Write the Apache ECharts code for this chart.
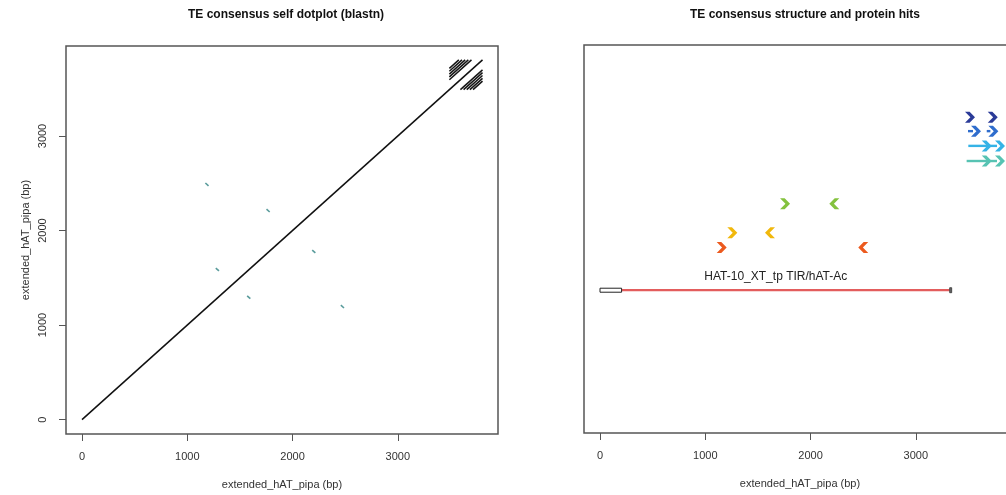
<!DOCTYPE html>
<html><head><meta charset="utf-8">
<script src="https://cdn.jsdelivr.net/npm/echarts@6/dist/echarts.min.js"></script>
<style>html,body{margin:0;padding:0;background:#fff}#c{width:1006px;height:495px}</style>
</head><body><div id="c"></div>
<script>
// ---------------- data ----------------
const leftTitle = 'TE consensus self dotplot (blastn)';
const rightTitle = 'TE consensus structure and protein hits';
const axisTitle = 'extended_hAT_pipa (bp)';
const axisMin = -152, axisMax = 3952;
const tickValues = [0, 1000, 2000, 3000];
const tickLabels = ['0', '1000', '2000', '3000'];

// self dotplot: main diagonal [x1, y1, x2, y2]
const diagonalSegment = [[0, 0, 3805, 3805]];
// tandem-repeat blocks near the 3' end (above and below the diagonal)
const repeatUpper = [
  [3490, 3595, 3700, 3805], [3490, 3625, 3670, 3805], [3490, 3655, 3640, 3805],
  [3490, 3685, 3610, 3805], [3490, 3715, 3580, 3805]
];
const repeatLower = [
  [3595, 3490, 3805, 3700], [3625, 3490, 3805, 3670], [3655, 3490, 3805, 3640],
  [3685, 3490, 3805, 3610], [3715, 3490, 3805, 3580]
];
// small inverted-repeat hits [x1, y1, x2, y2]
const invertedHits = [
  [1172, 2503, 1202, 2473], [2459, 1211, 2489, 1181],
  [1753, 2226, 1783, 2196], [2187, 1793, 2217, 1763],
  [1271, 1603, 1301, 1573], [1569, 1309, 1599, 1279]
];

// TE structure: [start, leftTirEnd, rightTirStart, end, track]
const teName = 'HAT-10_XT_tp TIR/hAT-Ac';
const teStructure = [[0, 205, 3322, 3340, 36.8]];

// protein hit tracks (level on an arbitrary 0-100 scale)
const hitTrackLevel = [47.8, 51.6, 59.1, 70.1, 74.0, 77.8, 81.4];
// arrow heads: position bp, track index, strand
const hitHeadPos    = [1156, 2501, 1257, 1615, 1758, 2226, 3674, 3800, 3674, 3800, 3572, 3737, 3515, 3731];
const hitHeadTrack  = [0, 0, 1, 1, 2, 2, 3, 3, 4, 4, 5, 5, 6, 6];
const hitHeadStrand = ['+', '-', '+', '-', '+', '-', '+', '+', '+', '+', '+', '+', '+', '+'];
// arrow shafts: [start, end, track]
const hitShafts = [[3483, 3800, 3], [3499, 3800, 4], [3496, 3572, 5], [3674, 3737, 5]];

// ---------------- style ----------------
const FONT = "'Liberation Sans', Arial, Helvetica, sans-serif";
const trackColors = ['#ec5a1e', '#f1b80c', '#84c23e', '#57c3b3', '#35b3e6', '#2f6dcd', '#2b3b98'];
const boxColor = '#555';
const chevron = 'path://M0,0 L4.6,0 L10,6 L4.6,12 L0,12 L5.4,6 Z';
const fmt = v => tickLabels[tickValues.indexOf(v)] !== undefined ? tickLabels[tickValues.indexOf(v)] : String(v);

function segRender(color, width) {
  return function (params, api) {
    const p1 = api.coord([api.value(0), api.value(1)]);
    const p2 = api.coord([api.value(2), api.value(3)]);
    return { type: 'line', shape: { x1: p1[0], y1: p1[1], x2: p2[0], y2: p2[1] },
             style: { stroke: color, lineWidth: width } };
  };
}

function xAxisCfg(gi) {
  return {
    gridIndex: gi, type: 'value', min: axisMin, max: axisMax,
    axisLine: { show: false, onZero: false }, splitLine: { show: false },
    axisTick: { show: true, length: 7, customValues: tickValues, lineStyle: { color: boxColor, width: 1 } },
    axisLabel: { customValues: tickValues, formatter: fmt, margin: 17, fontSize: 11, color: '#333', fontFamily: FONT },
    name: axisTitle, nameLocation: 'middle', nameGap: 45,
    nameTextStyle: { fontSize: 11, color: '#333', fontFamily: FONT }
  };
}

const series = [];
series.push({ type: 'custom', xAxisIndex: 0, yAxisIndex: 0, renderItem: segRender('#111', 1.5), data: diagonalSegment, silent: true });
series.push({ type: 'custom', xAxisIndex: 0, yAxisIndex: 0, renderItem: segRender('#151515', 1.5), data: repeatUpper.concat(repeatLower), silent: true });
series.push({ type: 'custom', xAxisIndex: 0, yAxisIndex: 0, renderItem: segRender('#5a9c9c', 1.6), data: invertedHits, silent: true });

series.push({
  type: 'custom', xAxisIndex: 1, yAxisIndex: 1, data: teStructure, silent: true,
  renderItem: function (params, api) {
    const y = api.value(4);
    const a = api.coord([api.value(0), y]);
    const b = api.coord([api.value(1), y]);
    const c = api.coord([api.value(2), y]);
    const d = api.coord([api.value(3), y]);
    const mid = api.coord([(api.value(0) + api.value(3)) / 2, y]);
    return { type: 'group', children: [
      { type: 'line', shape: { x1: b[0], y1: b[1], x2: c[0], y2: c[1] }, style: { stroke: '#e35d5d', lineWidth: 2.2 } },
      { type: 'rect', shape: { x: a[0], y: a[1] - 2, width: b[0] - a[0], height: 4 }, style: { fill: '#fff', stroke: '#222', lineWidth: 1 } },
      { type: 'rect', shape: { x: c[0], y: c[1] - 2.5, width: Math.max(d[0] - c[0], 2), height: 5 }, style: { fill: '#666', stroke: '#333', lineWidth: 0.8 } },
      { type: 'text', x: mid[0], y: mid[1] - 14, style: { text: teName, fill: '#222', font: '12px ' + FONT, textAlign: 'center', textVerticalAlign: 'middle' } }
    ] };
  }
});

series.push({
  type: 'custom', xAxisIndex: 1, yAxisIndex: 1, data: hitShafts, silent: true,
  renderItem: function (params, api) {
    const t = api.value(2);
    const p1 = api.coord([api.value(0), hitTrackLevel[t]]);
    const p2 = api.coord([api.value(1), hitTrackLevel[t]]);
    return { type: 'line', shape: { x1: p1[0], y1: p1[1], x2: p2[0] - 3, y2: p2[1] },
             style: { stroke: trackColors[t], lineWidth: 2.4 } };
  }
});
series.push({
  type: 'scatter', xAxisIndex: 1, yAxisIndex: 1, silent: true,
  symbol: chevron, symbolSize: [10, 11], symbolKeepAspect: false,
  data: hitHeadPos.map((p, i) => ({
    value: [p, hitTrackLevel[hitHeadTrack[i]]],
    symbolRotate: hitHeadStrand[i] === '-' ? 180 : 0,
    itemStyle: { color: trackColors[hitHeadTrack[i]], opacity: 1 }
  }))
});

const option = {
  animation: false,
  backgroundColor: '#fff',
  title: [
    { text: leftTitle, left: 281, top: 4, textAlign: 'center', textStyle: { fontSize: 12, fontWeight: 'bold', color: '#111', fontFamily: FONT } },
    { text: rightTitle, left: 800, top: 4, textAlign: 'center', textStyle: { fontSize: 12, fontWeight: 'bold', color: '#111', fontFamily: FONT } }
  ],
  grid: [
    { left: 66, top: 46, width: 432, height: 388, show: true, borderColor: boxColor, borderWidth: 1.5, backgroundColor: 'transparent', outerBoundsMode: 'none' },
    { left: 584, top: 45, width: 432, height: 388, show: true, borderColor: boxColor, borderWidth: 1.5, backgroundColor: 'transparent', outerBoundsMode: 'none' }
  ],
  xAxis: [xAxisCfg(0), xAxisCfg(1)],
  yAxis: [
    {
      gridIndex: 0, type: 'value', min: axisMin, max: axisMax,
      axisLine: { show: false, onZero: false }, splitLine: { show: false },
      axisTick: { show: true, length: 7, customValues: tickValues, lineStyle: { color: boxColor, width: 1 } },
      axisLabel: { customValues: tickValues, formatter: fmt, margin: 18, rotate: 90, fontSize: 11, color: '#333', fontFamily: FONT },
      name: axisTitle, nameLocation: 'middle', nameGap: 35,
      nameTextStyle: { fontSize: 11, color: '#333', fontFamily: FONT }
    },
    {
      gridIndex: 1, type: 'value', min: 0, max: 100,
      axisLine: { show: false, onZero: false }, splitLine: { show: false },
      axisTick: { show: false }, axisLabel: { show: false }
    }
  ],
  series: series
};

const chart = echarts.init(document.getElementById('c'), null, { renderer: 'canvas' });
chart.setOption(option);
</script>
</body></html>
